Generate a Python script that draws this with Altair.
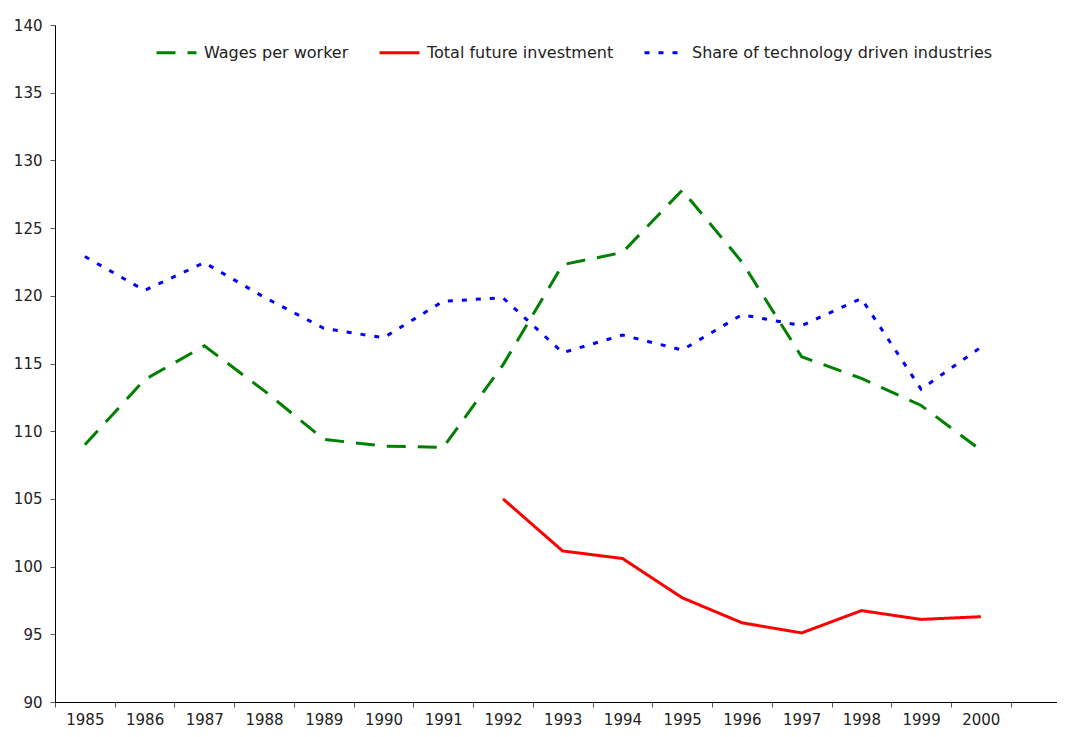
import altair as alt
import pandas as pd

years = [str(y) for y in range(1985, 2001)]
wages = [109.0, 113.8, 116.3, 113.0, 109.4, 108.9, 108.8, 114.9, 122.3, 123.2,
         127.8, 122.5, 115.5, 113.9, 111.9, 108.6]
share = [122.9, 120.4, 122.45, 119.9, 117.6, 116.9, 119.6, 119.85, 115.8, 117.1,
         116.0, 118.6, 117.8, 119.8, 113.1, 116.2]
invest_years = years[7:]
invest = [105.0, 101.15, 100.6, 97.7, 95.85, 95.1, 96.75, 96.1, 96.3]

series_names = ["Wages per worker", "Total future investment",
                "Share of technology driven industries"]
colors = ["#008000", "#ff0000", "#0000ff"]
dashes = [[19, 12], [1, 0], [5, 9]]
y_ticks = list(range(90, 141, 5))

rows = []
for y, v in zip(years, wages):
    rows.append({"year": y, "value": v, "series": series_names[0]})
for y, v in zip(invest_years, invest):
    rows.append({"year": y, "value": v, "series": series_names[1]})
for y, v in zip(years, share):
    rows.append({"year": y, "value": v, "series": series_names[2]})
df = pd.DataFrame(rows)

FONT = "DejaVu Sans"

legend = alt.Legend(title=None, orient="none", direction="horizontal",
                    legendX=100, legendY=6, symbolType="stroke",
                    symbolSize=1600, symbolStrokeWidth=3,
                    labelFont=FONT, labelFontSize=16, labelColor="#222",
                    labelOffset=6, columnPadding=24, labelLimit=400)

chart = alt.Chart(df).mark_line(strokeWidth=3).encode(
    x=alt.X(
        "year:O",
        sort=years,
        bandPosition=0.5,
        scale=alt.Scale(type="band", domain=years, paddingInner=0,
                        paddingOuter=0.3876, align=0),
        axis=alt.Axis(title=None, tickBand="extent", labelAngle=0,
                      labelFont=FONT, labelFontSize=15, labelColor="#222",
                      tickSize=5, tickColor="#555", domainColor="#000",
                      labelPadding=5, labelOverlap=False),
    ),
    y=alt.Y(
        "value:Q",
        scale=alt.Scale(domain=[90, 140], nice=False, zero=False),
        axis=alt.Axis(title=None, values=y_ticks, grid=False,
                      labelFont=FONT, labelFontSize=15, labelColor="#222",
                      tickSize=5, tickColor="#555", domainColor="#000",
                      labelPadding=8),
    ),
    color=alt.Color(
        "series:N",
        sort=series_names,
        scale=alt.Scale(domain=series_names, range=colors),
        legend=legend,
    ),
    strokeDash=alt.StrokeDash(
        "series:N",
        sort=series_names,
        scale=alt.Scale(domain=series_names, range=dashes),
        legend=legend,
    ),
).properties(
    width=1002,
    height=677,
    autosize=alt.AutoSizeParams(type="none"),
    padding={"left": 47, "top": 17, "right": 0, "bottom": 27},
    background="white",
).configure_view(stroke=None)

chart.save("out.html", embed_options={"renderer": "svg", "actions": False})
